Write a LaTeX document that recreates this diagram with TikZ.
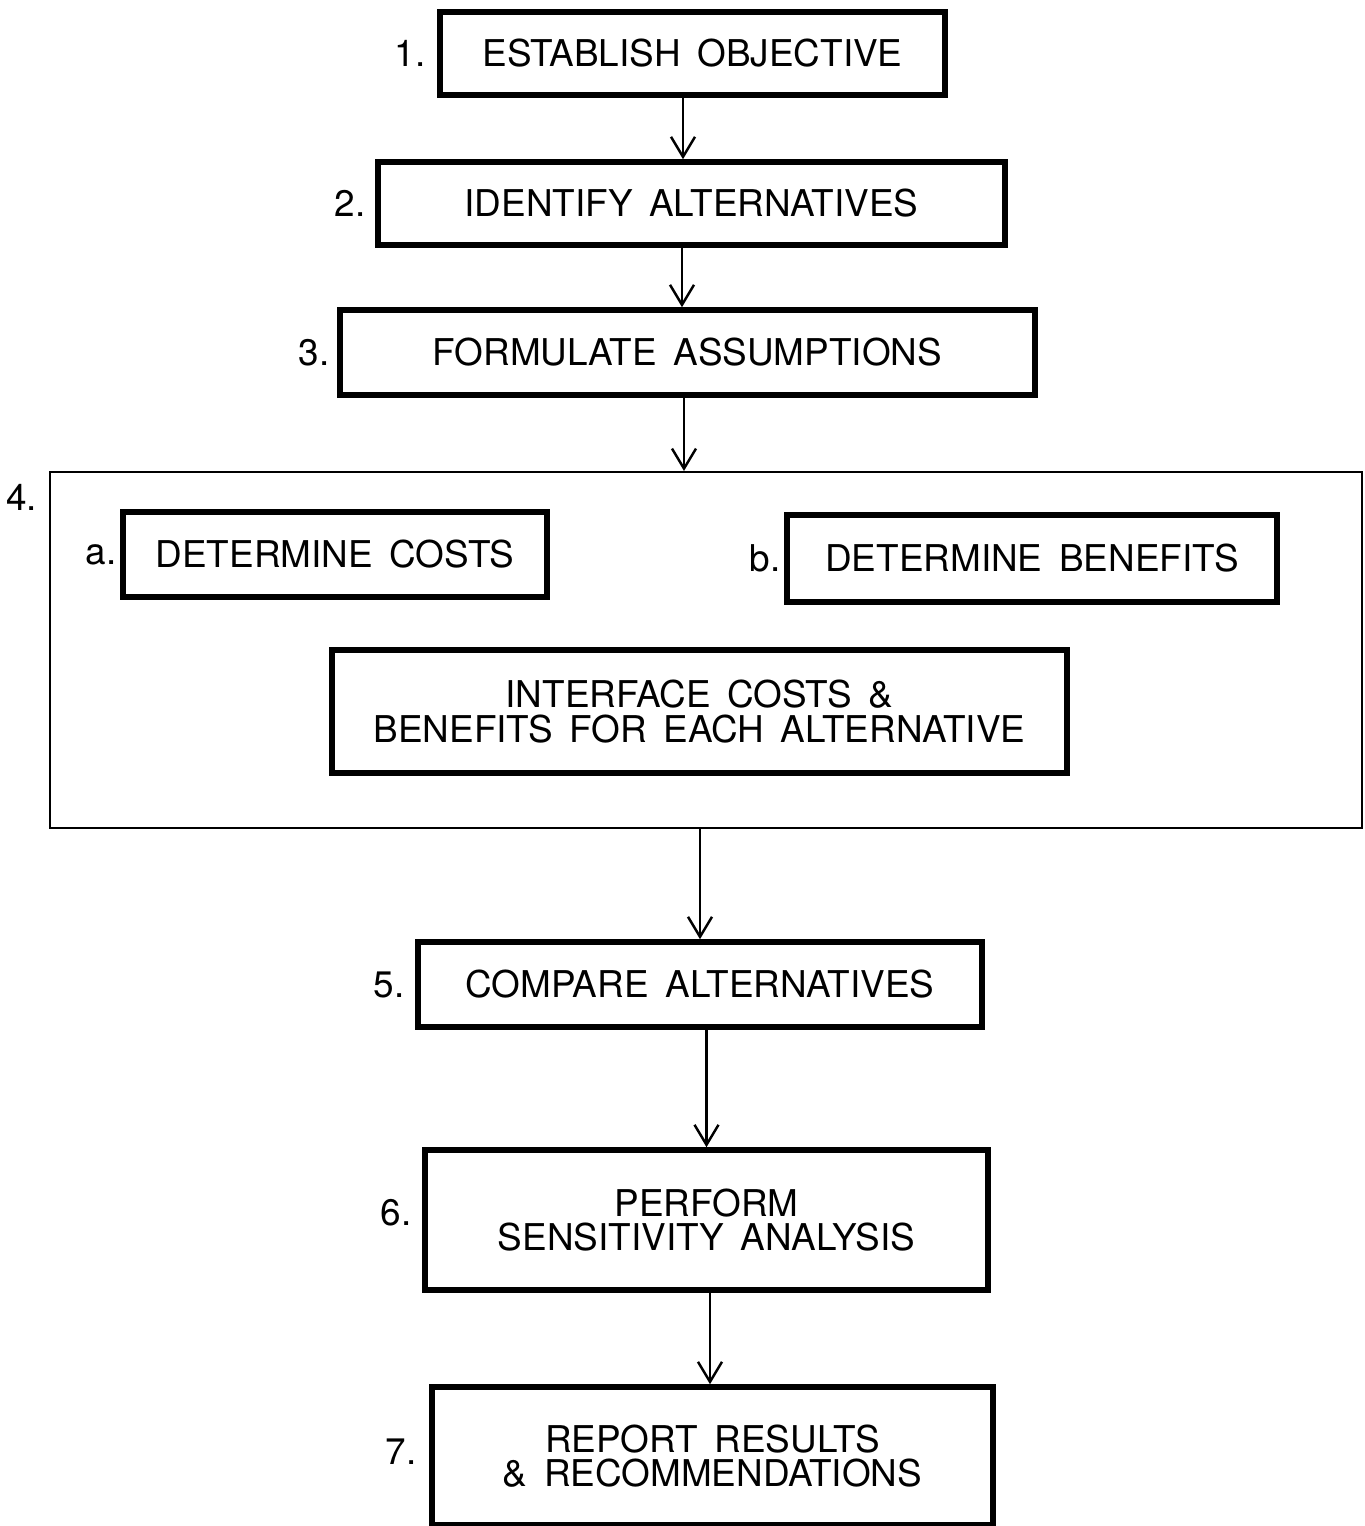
\documentclass[tikz,border=0pt]{standalone}
\usepackage{fontspec}
\setmainfont{TeX Gyre Heros}
\usetikzlibrary{positioning}
\usetikzlibrary{arrows.meta}

\tikzset{
  stepbox/.style={draw, line width=1.6pt, fill=white, align=center, inner sep=2pt,
    execute at begin node={\spaceskip=0.45em plus 0.1em minus 0.05em\relax}},
  steplabel/.style={inner sep=0pt},
  flow/.style={line width=0.7pt, -{Straight Barb[length=2mm, width=2.4mm]}},
}

\begin{document}
\begin{tikzpicture}[font=\fontsize{10.5}{9.8}\selectfont]

\useasboundingbox (0,0) rectangle (13.64,-15.26);

%the frame round step 4
\node[draw, line width=0.6pt, minimum width=13.12cm, minimum height=3.56cm] (big) at (7.06,-6.5) {};

\node[stepbox, minimum width=5.05cm, minimum height=0.83cm] (obj) at (6.925,-0.535) {ESTABLISH OBJECTIVE};
\node[stepbox, minimum width=6.27cm, minimum height=0.83cm] (alt) at (6.915,-2.035) {IDENTIFY ALTERNATIVES};
\node[stepbox, minimum width=6.95cm, minimum height=0.85cm] (assum) at (6.875,-3.525) {FORMULATE ASSUMPTIONS};

\node[stepbox, minimum width=4.24cm, minimum height=0.85cm] (costs) at (3.35,-5.545) {DETERMINE COSTS};
\node[stepbox, minimum width=4.9cm, minimum height=0.87cm] (benef) at (10.32,-5.585) {DETERMINE BENEFITS};
\node[stepbox, minimum width=7.35cm, minimum height=1.23cm] (inter) at (6.995,-7.115) {INTERFACE COSTS \&\\BENEFITS FOR EACH ALTERNATIVE};

\node[stepbox, minimum width=5.64cm, minimum height=0.85cm] (cmp) at (7.0,-9.845) {COMPARE ALTERNATIVES};
\node[stepbox, minimum width=5.63cm, minimum height=1.4cm] (sens) at (7.065,-12.2) {PERFORM\\SENSITIVITY ANALYSIS};
\node[stepbox, minimum width=5.61cm, minimum height=1.38cm] (rep) at (7.125,-14.56) {REPORT RESULTS\\\& RECOMMENDATIONS};


%numbers
\node[steplabel, left=1.1mm of obj.west] (n1) {1.};
\node[steplabel, left=0.9mm of alt.west] (n2) {2.};
\node[steplabel, left=0.7mm of assum.west] (n3) {3.};
\node[steplabel, anchor=north east] (n4) at ([xshift=-1.1mm, yshift=-1.3mm]big.north west) {4.};
\node[steplabel, left=0.3mm of costs.west] (na) {a.};
\node[steplabel, left=0.3mm of benef.west] (nb) {b.};
\node[steplabel, left=1mm of cmp.west] (n5) {5.};
\node[steplabel, left=1mm of sens.west, yshift=0.7mm] (n6) {6.};
\node[steplabel, left=1.2mm of rep.west, yshift=0.4mm] (n7) {7.};


%arrows
\draw[flow] ([xshift=-0.95mm]obj.south) -- ([xshift=-0.95mm]obj.south |- alt.north);
\draw[flow] ([xshift=-0.95mm]alt.south) -- ([xshift=-0.95mm]alt.south |- assum.north);
\draw[flow] ([xshift=-0.35mm]assum.south) -- ([xshift=-0.35mm]assum.south |- big.north);
\draw[flow] (cmp.north |- big.south) -- (cmp.north);
\draw[flow] (sens.north |- cmp.south) -- (sens.north);
\draw[flow] ([xshift=0.35mm]sens.south) -- ([xshift=0.35mm]sens.south |- rep.north);

\end{tikzpicture}
\end{document}
